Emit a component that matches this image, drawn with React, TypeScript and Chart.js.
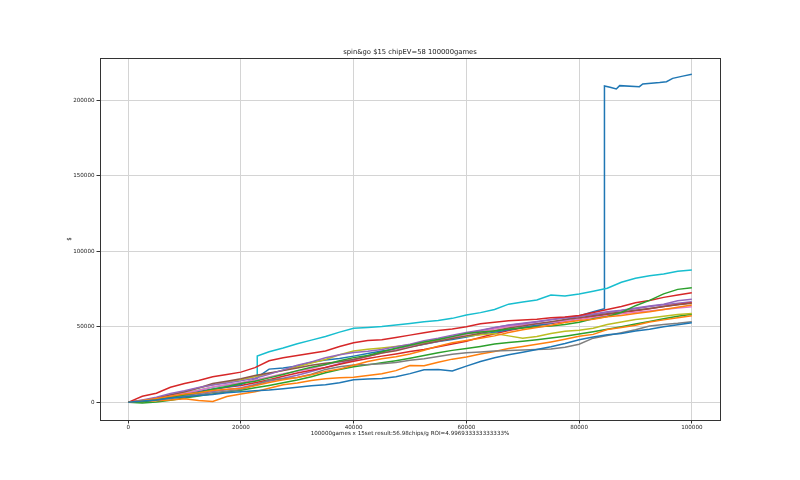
import React, { useEffect, useRef } from "react";
import { Chart, registerables } from "chart.js";

Chart.register(...registerables);

const TITLE = "spin&go $15 chipEV=58 100000games";
const X_LABEL = "100000games x 15set result:56.98chips/g ROI=4.996933333333333%";
const Y_LABEL = "$";

const xTickValues = [0, 20000, 40000, 60000, 80000, 100000];
const yTickValues = [0, 50000, 100000, 150000, 200000];

const games = [
  0, 2500, 5000, 7500, 10000, 12500, 15000, 17500, 20000, 22500, 25000, 27500, 30000, 32500, 35000, 37500, 40000,
  42500, 45000, 47500, 50000, 52500, 55000, 57500, 60000, 62500, 65000, 67500, 70000, 72500, 75000, 77500, 80000,
  82500, 85000, 87500, 90000, 92500, 95000, 97500, 100000,
];

const blueLow = [
  0, 800, 1500, 2800, 3600, 4500, 5200, 6400, 7000, 7600, 8100, 9000, 10000, 10900, 11600, 13000, 15000, 15400, 15800,
  16900, 19000, 21500, 21800, 20800, 24000, 27000, 29500, 31500, 33200, 35000, 36800, 39000, 41500, 43200, 44800,
  45600, 47200, 48400, 50100, 51300, 52700,
];
const orangeA = [
  0, 1200, 2600, 4100, 5500, 6300, 7800, 8600, 9200, 11000, 13100, 15000, 16400, 18200, 20500, 22000, 24600, 27000,
  28800, 30200, 32000, 34500, 37200, 39500, 41000, 42400, 44000, 46200, 48000, 49500, 51000, 52800, 54200, 55000,
  56600, 57500, 58800, 60000, 61500, 63000, 64400,
];
const greenA = [
  0, 300, 1800, 3400, 5000, 6400, 8600, 10500, 12500, 14000, 16200, 18400, 21000, 23200, 25000, 27500, 29600, 31000,
  33500, 35800, 37800, 40000, 41600, 43500, 45600, 46500, 47200, 48500, 49200, 50000, 50600, 51500, 53000, 55400,
  56800, 59500, 64000, 67500, 71800, 74800, 75900,
];
const redA = [
  0, 4000, 6000, 10000, 12500, 14500, 17000, 18500, 20000, 23000, 27500, 29500, 31000, 32500, 34000, 37000, 39500,
  41000, 41500, 43000, 44500, 46000, 47500, 48500, 50000, 52000, 53000, 54000, 54500, 55000, 56000, 56500, 57500,
  59500, 61500, 63500, 66000, 67500, 69500, 71000, 72600,
];
const purpleA = [
  0, 1500, 3400, 5800, 7600, 9800, 11500, 12800, 14200, 16000, 18500, 21500, 24600, 26800, 29500, 31500, 33000, 33800,
  35000, 36800, 38500, 40800, 42400, 44500, 46200, 47800, 49500, 51000, 52000, 53200, 54600, 55800, 56800, 58500,
  60000, 61000, 62400, 63800, 65000, 67200, 68200,
];
const brownA = [
  0, 1000, 2800, 5000, 7000, 9500, 12400, 14000, 15600, 17800, 19400, 21000, 22800, 24600, 25800, 26900, 28400, 30500,
  32600, 34200, 36400, 38600, 40400, 42300, 44000, 45700, 47400, 49200, 50600, 52000, 53400, 54800, 56000, 57300,
  58600, 59800, 61000, 62200, 63400, 64600, 65600,
];
const pinkA = [
  0, 1400, 2600, 4400, 6000, 8000, 10200, 11600, 13000, 14800, 16800, 18900, 20600, 22400, 24800, 26900, 28600, 30400,
  32600, 34800, 36800, 38600, 40500, 42800, 45000, 46800, 48500, 50200, 51400, 52000, 52800, 53900, 55000, 56200,
  57400, 58600, 59600, 60500, 61400, 62400, 63300,
];
const grayA = [
  0, 600, 1500, 2600, 3800, 5000, 6400, 7400, 8500, 11500, 14800, 15600, 16500, 18600, 21800, 23600, 24700, 25000,
  25600, 26400, 27800, 28900, 30400, 31800, 32800, 33400, 34000, 34300, 34600, 35000, 35300, 36500, 38500, 42500,
  44200, 46000, 48000, 50600, 51500, 52300, 53400,
];
const oliveA = [
  0, 1000, 2500, 4800, 7000, 9400, 11600, 13400, 15000, 17000, 19000, 21200, 23500, 26000, 28400, 31500, 34000, 35200,
  36000, 37000, 38200, 39600, 41000, 42400, 43800, 44800, 45600, 44000, 42500, 43600, 45600, 47000, 47800, 49000,
  51500, 53200, 54800, 55800, 57000, 58200, 58900,
];

const cyanGames = [
  0, 2500, 5000, 7500, 10000, 12500, 15000, 17500, 20000, 22900, 22900, 25000, 27500, 30000, 32500, 35000, 37500,
  40000, 42500, 45000, 47500, 50000, 52500, 55000, 57500, 60000, 62500, 65000, 67500, 70000, 72500, 75000, 77500,
  80000, 82500, 85000, 87500, 90000, 92500, 95000, 97500, 100000,
];
const cyanA = [
  0, 1200, 2600, 4400, 6200, 8000, 10000, 11400, 12800, 15000, 30600, 33500, 36000, 38800, 41200, 43600, 46500, 49000,
  49600, 50200, 51200, 52200, 53400, 54200, 55600, 57800, 59400, 61500, 65000, 66400, 67800, 71000, 70400, 71700,
  73500, 75500, 79500, 82100, 83800, 85000, 86800, 87600,
];

const blueJumpGames = [
  0, 2500, 5000, 7500, 10000, 12500, 15000, 17500, 20000, 22500, 25000, 27500, 30000, 32500, 35000, 37500, 40000,
  42500, 45000, 47500, 50000, 52500, 55000, 57500, 60000, 62500, 65000, 67500, 70000, 72500, 75000, 77500, 80000,
  82500, 84500, 84500, 85500, 86600, 87200, 90700, 91300, 94300, 95500, 96600, 98400, 100000,
];
const blueJump = [
  0, 800, 2200, 3600, 5200, 6800, 8600, 10200, 11800, 15500, 22000, 22800, 24000, 26500, 28000, 29000, 30600, 32400,
  34000, 35200, 36800, 38400, 40200, 41600, 43200, 45000, 46400, 48000, 49600, 51000, 52400, 54600, 57200, 60000,
  62000, 209500, 208600, 207500, 209700, 209000, 210800, 211700, 212300, 214500, 216000, 217200,
];

const orangeB = [
  0, 500, 1000, 1600, 2400, 1200, 600, 3800, 5500, 7000, 9300, 11600, 12800, 14500, 15600, 16200, 16600, 17800, 19000,
  21000, 24400, 24200, 26500, 28600, 30000, 32000, 33600, 35600, 37000, 38400, 40000, 41800, 43800, 45000, 48200,
  49600, 51000, 53200, 54600, 56000, 57400,
];
const greenB = [
  0, -400, 200, 1400, 2800, 4200, 5600, 7000, 8000, 9600, 11200, 13000, 14800, 17000, 19600, 21800, 23600, 24800,
  26200, 27600, 29200, 31000, 32800, 34400, 35600, 37000, 38600, 39600, 40400, 41400, 42600, 43800, 45200, 46800,
  48400, 50000, 51800, 53600, 55400, 57000, 58300,
];
const redB = [
  0, 1000, 2400, 4000, 5600, 7200, 8600, 10000, 11200, 13000, 15000, 17200, 19400, 21200, 23000, 25200, 27200, 29000,
  30600, 32000, 33600, 35000, 36800, 38600, 40400, 43000, 45400, 47600, 49400, 50800, 52200, 53600, 55200, 56800,
  58200, 59400, 60600, 62000, 63400, 64800, 66000,
];
const purpleB = [
  0, 600, 1600, 3000, 4400, 5800, 7200, 8400, 9600, 11800, 14000, 16000, 18000, 20400, 23000, 25600, 28000, 30600,
  33000, 35000, 37000, 39400, 41600, 43800, 45600, 47400, 49400, 51200, 52400, 53600, 54800, 56200, 57200, 58000,
  59400, 60800, 62000, 63400, 64600, 65600, 66600,
];

const tab10 = ["#1f77b4", "#ff7f0e", "#2ca02c", "#d62728", "#9467bd", "#8c564b", "#e377c2", "#7f7f7f", "#bcbd22", "#17becf"];

const seriesList: { xs: number[]; ys: number[] }[] = [
  { xs: games, ys: blueLow },
  { xs: games, ys: orangeA },
  { xs: games, ys: greenA },
  { xs: games, ys: redA },
  { xs: games, ys: purpleA },
  { xs: games, ys: brownA },
  { xs: games, ys: pinkA },
  { xs: games, ys: grayA },
  { xs: games, ys: oliveA },
  { xs: cyanGames, ys: cyanA },
  { xs: blueJumpGames, ys: blueJump },
  { xs: games, ys: orangeB },
  { xs: games, ys: greenB },
  { xs: games, ys: redB },
  { xs: games, ys: purpleB },
];

const FONT = '"DejaVu Sans", sans-serif';

const framePlugin = {
  id: "mplFrame",
  afterDraw(chart: any) {
    const { ctx, chartArea: a } = chart;
    ctx.save();
    ctx.strokeStyle = "#333";
    ctx.lineWidth = 1;
    ctx.strokeRect(Math.round(a.left) + 0.5, Math.round(a.top) + 0.5, Math.round(a.right - a.left), Math.round(a.bottom - a.top));
    const cx = (a.left + a.right) / 2;
    ctx.fillStyle = "#222";
    ctx.textAlign = "center";
    ctx.textBaseline = "middle";
    ctx.font = `6.8px ${FONT}`;
    ctx.fillText(TITLE, cx, 52);
    ctx.font = `5.6px ${FONT}`;
    ctx.fillText(X_LABEL, cx, 434);
    ctx.translate(70, 239);
    ctx.rotate(-Math.PI / 2);
    ctx.fillText(Y_LABEL, 0, 0);
    ctx.restore();
  },
};

export default function App() {
  const ref = useRef<HTMLCanvasElement | null>(null);
  useEffect(() => {
    if (!ref.current) return;
    const chart = new Chart(ref.current, {
      type: "line",
      data: {
        datasets: seriesList.map((s, i) => ({
          data: s.xs.map((x, j) => ({ x, y: s.ys[j] })),
          borderColor: tab10[i % 10],
          backgroundColor: tab10[i % 10],
          borderWidth: 1.5,
          pointRadius: 0,
          tension: 0,
          fill: false,
        })),
      },
      options: {
        animation: false,
        responsive: false,
        devicePixelRatio: 1,
        layout: { padding: { left: 0, right: 80, top: 58, bottom: 0 } },
        plugins: { legend: { display: false }, title: { display: false }, tooltip: { enabled: false } },
        scales: {
          x: {
            type: "linear",
            min: -5000,
            max: 105000,
            afterBuildTicks: (scale: any) => {
              scale.ticks = xTickValues.map((v) => ({ value: v }));
            },
            afterFit: (scale: any) => {
              scale.height = 60;
            },
            grid: { color: "#d4d4d4", lineWidth: 1, tickColor: "#333", tickLength: 3.5 },
            border: { display: false },
            ticks: { font: { family: FONT, size: 5.6 }, color: "#222", padding: 1, maxRotation: 0, callback: (v: any) => String(v) },
          },
          y: {
            type: "linear",
            min: -11700,
            max: 228000,
            afterBuildTicks: (scale: any) => {
              scale.ticks = yTickValues.map((v) => ({ value: v }));
            },
            afterFit: (scale: any) => {
              scale.width = 100;
            },
            grid: { color: "#d4d4d4", lineWidth: 1, tickColor: "#333", tickLength: 3.5 },
            border: { display: false },
            ticks: { font: { family: FONT, size: 5.6 }, color: "#222", padding: 2, callback: (v: any) => String(v) },
          },
        },
      },
      plugins: [framePlugin],
    });
    return () => chart.destroy();
  }, []);
  return (
    <canvas
      ref={ref}
      width={800}
      height={480}
      style={{ position: "absolute", left: 0, top: 0, width: 800, height: 480, background: "#fff" }}
    />
  );
}
